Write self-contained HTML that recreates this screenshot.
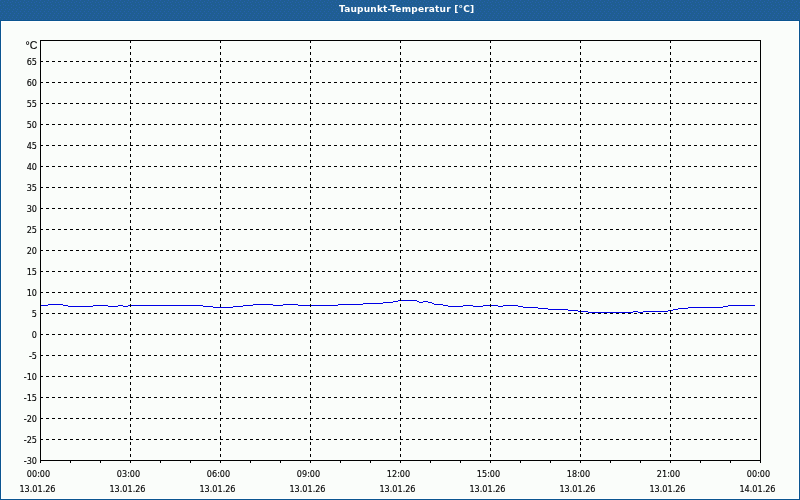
<!DOCTYPE html>
<html><head><meta charset="utf-8"><title>Taupunkt-Temperatur</title>
<style>
html,body{margin:0;padding:0;}
body{width:800px;height:500px;overflow:hidden;position:relative;background:#1f5e92;font-family:"Liberation Sans",Arial,sans-serif;}
#title{position:absolute;left:0;top:0;width:800px;height:20px;background:#1f5e92;}
#title span{position:absolute;left:339px;top:3px;font:bold 9px "DejaVu Sans",sans-serif;letter-spacing:0.2px;color:#fff;white-space:nowrap;line-height:13px;}
#frame{position:absolute;left:0;top:20px;width:798px;height:478px;border:1px solid #0b5590;border-width:1px;background:#fff;}
#inner{position:absolute;left:1px;top:1px;width:796px;height:476px;background:#fafdfa;}
svg{position:absolute;left:0;top:0;}
.yl{position:absolute;left:0;width:37px;text-align:right;font:9px "DejaVu Sans Condensed","DejaVu Sans",sans-serif;line-height:14px;color:#000;-webkit-text-stroke:0.12px #000;}
.xl{position:absolute;width:100px;text-align:center;font:9px "DejaVu Sans Condensed","DejaVu Sans",sans-serif;line-height:14px;color:#000;-webkit-text-stroke:0.12px #000;}
#unit{position:absolute;left:25.5px;top:37.5px;font:10.6px "Liberation Sans",Arial,sans-serif;line-height:14px;color:#000;-webkit-text-stroke:0.12px #000;}
</style></head><body>
<div id="title"><svg id="tsvg" width="800" height="20" viewBox="0 0 800 20" shape-rendering="crispEdges" style="position:absolute;left:0;top:0"><defs><pattern id="dith" x="0" y="0" width="8" height="20" patternUnits="userSpaceOnUse"><g fill="#2660ae"><rect x="0" y="0" width="1" height="1"/><rect x="4" y="1" width="1" height="1"/><rect x="2" y="2" width="1" height="1"/><rect x="7" y="2" width="1" height="1"/><rect x="3" y="4" width="1" height="1"/><rect x="0" y="5" width="1" height="1"/><rect x="5" y="5" width="1" height="1"/><rect x="3" y="7" width="1" height="1"/><rect x="7" y="8" width="1" height="1"/><rect x="1" y="9" width="1" height="1"/><rect x="5" y="9" width="1" height="1"/><rect x="0" y="11" width="1" height="1"/><rect x="4" y="11" width="1" height="1"/><rect x="2" y="13" width="1" height="1"/><rect x="6" y="13" width="1" height="1"/><rect x="1" y="15" width="1" height="1"/><rect x="5" y="15" width="1" height="1"/><rect x="0" y="17" width="1" height="1"/><rect x="4" y="17" width="1" height="1"/><rect x="2" y="19" width="1" height="1"/><rect x="6" y="19" width="1" height="1"/></g></pattern></defs><rect x="0" y="0" width="800" height="20" fill="url(#dith)"/></svg><span>Taupunkt-Temperatur [°C]</span></div>
<div id="frame"><div id="inner"></div></div>
<svg width="800" height="500" viewBox="0 0 800 500" shape-rendering="crispEdges">
<g fill="#0000e6">
<rect x="41" y="305" width="7" height="1"/>
<rect x="48" y="304" width="15" height="1"/>
<rect x="63" y="305" width="5" height="1"/>
<rect x="68" y="306" width="25" height="1"/>
<rect x="93" y="305" width="15" height="1"/>
<rect x="108" y="306" width="10" height="1"/>
<rect x="118" y="305" width="5" height="1"/>
<rect x="123" y="306" width="5" height="1"/>
<rect x="128" y="305" width="75" height="1"/>
<rect x="203" y="306" width="10" height="1"/>
<rect x="213" y="307" width="20" height="1"/>
<rect x="233" y="306" width="10" height="1"/>
<rect x="243" y="305" width="10" height="1"/>
<rect x="253" y="304" width="20" height="1"/>
<rect x="273" y="305" width="10" height="1"/>
<rect x="283" y="304" width="15" height="1"/>
<rect x="298" y="305" width="40" height="1"/>
<rect x="338" y="304" width="25" height="1"/>
<rect x="363" y="303" width="20" height="1"/>
<rect x="383" y="302" width="10" height="1"/>
<rect x="393" y="301" width="5" height="1"/>
<rect x="398" y="300" width="19" height="1"/>
<rect x="417" y="301" width="2" height="1"/>
<rect x="419" y="302" width="4" height="1"/>
<rect x="423" y="301" width="5" height="1"/>
<rect x="428" y="302" width="4" height="1"/>
<rect x="432" y="303" width="2" height="1"/>
<rect x="434" y="304" width="9" height="1"/>
<rect x="443" y="305" width="5" height="1"/>
<rect x="448" y="306" width="15" height="1"/>
<rect x="463" y="305" width="10" height="1"/>
<rect x="473" y="306" width="10" height="1"/>
<rect x="483" y="305" width="15" height="1"/>
<rect x="498" y="306" width="5" height="1"/>
<rect x="503" y="305" width="15" height="1"/>
<rect x="518" y="306" width="5" height="1"/>
<rect x="523" y="307" width="15" height="1"/>
<rect x="538" y="308" width="10" height="1"/>
<rect x="548" y="309" width="20" height="1"/>
<rect x="568" y="310" width="10" height="1"/>
<rect x="578" y="311" width="10" height="1"/>
<rect x="588" y="312" width="45" height="1"/>
<rect x="633" y="311" width="5" height="1"/>
<rect x="638" y="312" width="5" height="1"/>
<rect x="643" y="311" width="25" height="1"/>
<rect x="668" y="310" width="5" height="1"/>
<rect x="673" y="309" width="5" height="1"/>
<rect x="678" y="308" width="10" height="1"/>
<rect x="688" y="307" width="35" height="1"/>
<rect x="723" y="306" width="5" height="1"/>
<rect x="728" y="305" width="27" height="1"/>
</g>
<g stroke="#000" stroke-width="1" stroke-dasharray="3 3" fill="none">
<line x1="40" y1="61.5" x2="760" y2="61.5"/>
<line x1="40" y1="82.5" x2="760" y2="82.5"/>
<line x1="40" y1="103.5" x2="760" y2="103.5"/>
<line x1="40" y1="124.5" x2="760" y2="124.5"/>
<line x1="40" y1="145.5" x2="760" y2="145.5"/>
<line x1="40" y1="166.5" x2="760" y2="166.5"/>
<line x1="40" y1="187.5" x2="760" y2="187.5"/>
<line x1="40" y1="208.5" x2="760" y2="208.5"/>
<line x1="40" y1="229.5" x2="760" y2="229.5"/>
<line x1="40" y1="250.5" x2="760" y2="250.5"/>
<line x1="40" y1="271.5" x2="760" y2="271.5"/>
<line x1="40" y1="292.5" x2="760" y2="292.5"/>
<line x1="40" y1="313.5" x2="760" y2="313.5"/>
<line x1="40" y1="334.5" x2="760" y2="334.5"/>
<line x1="40" y1="355.5" x2="760" y2="355.5"/>
<line x1="40" y1="376.5" x2="760" y2="376.5"/>
<line x1="40" y1="397.5" x2="760" y2="397.5"/>
<line x1="40" y1="418.5" x2="760" y2="418.5"/>
<line x1="40" y1="439.5" x2="760" y2="439.5"/>
<line x1="130.5" y1="40" x2="130.5" y2="460"/>
<line x1="220.5" y1="40" x2="220.5" y2="460"/>
<line x1="310.5" y1="40" x2="310.5" y2="460"/>
<line x1="400.5" y1="40" x2="400.5" y2="460"/>
<line x1="490.5" y1="40" x2="490.5" y2="460"/>
<line x1="580.5" y1="40" x2="580.5" y2="460"/>
<line x1="670.5" y1="40" x2="670.5" y2="460"/>
</g>
<g fill="#000">
<rect x="40" y="40" width="721" height="1"/>
<rect x="40" y="460" width="721" height="1"/>
<rect x="40" y="40" width="1" height="423"/>
<rect x="760" y="40" width="1" height="423"/>
<rect x="70" y="461" width="1" height="2"/>
<rect x="100" y="461" width="1" height="2"/>
<rect x="130" y="461" width="1" height="2"/>
<rect x="160" y="461" width="1" height="2"/>
<rect x="190" y="461" width="1" height="2"/>
<rect x="220" y="461" width="1" height="2"/>
<rect x="250" y="461" width="1" height="2"/>
<rect x="280" y="461" width="1" height="2"/>
<rect x="310" y="461" width="1" height="2"/>
<rect x="340" y="461" width="1" height="2"/>
<rect x="370" y="461" width="1" height="2"/>
<rect x="400" y="461" width="1" height="2"/>
<rect x="430" y="461" width="1" height="2"/>
<rect x="460" y="461" width="1" height="2"/>
<rect x="490" y="461" width="1" height="2"/>
<rect x="520" y="461" width="1" height="2"/>
<rect x="550" y="461" width="1" height="2"/>
<rect x="580" y="461" width="1" height="2"/>
<rect x="610" y="461" width="1" height="2"/>
<rect x="640" y="461" width="1" height="2"/>
<rect x="670" y="461" width="1" height="2"/>
<rect x="700" y="461" width="1" height="2"/>
<rect x="730" y="461" width="1" height="2"/>
</g>
</svg>
<div id="unit">°C</div>
<div class="yl" style="top:55px">65</div>
<div class="yl" style="top:76px">60</div>
<div class="yl" style="top:97px">55</div>
<div class="yl" style="top:118px">50</div>
<div class="yl" style="top:139px">45</div>
<div class="yl" style="top:160px">40</div>
<div class="yl" style="top:181px">35</div>
<div class="yl" style="top:202px">30</div>
<div class="yl" style="top:223px">25</div>
<div class="yl" style="top:244px">20</div>
<div class="yl" style="top:265px">15</div>
<div class="yl" style="top:286px">10</div>
<div class="yl" style="top:307px">5</div>
<div class="yl" style="top:328px">0</div>
<div class="yl" style="top:349px">-5</div>
<div class="yl" style="top:370px">-10</div>
<div class="yl" style="top:391px">-15</div>
<div class="yl" style="top:412px">-20</div>
<div class="yl" style="top:433px">-25</div>
<div class="yl" style="top:454px">-30</div>
<div class="xl" style="left:-11.5px;top:467px">00:00</div>
<div class="xl" style="left:-12.5px;top:482px">13.01.26</div>
<div class="xl" style="left:78.5px;top:467px">03:00</div>
<div class="xl" style="left:77.5px;top:482px">13.01.26</div>
<div class="xl" style="left:168.5px;top:467px">06:00</div>
<div class="xl" style="left:167.5px;top:482px">13.01.26</div>
<div class="xl" style="left:258.5px;top:467px">09:00</div>
<div class="xl" style="left:257.5px;top:482px">13.01.26</div>
<div class="xl" style="left:348.5px;top:467px">12:00</div>
<div class="xl" style="left:347.5px;top:482px">13.01.26</div>
<div class="xl" style="left:438.5px;top:467px">15:00</div>
<div class="xl" style="left:437.5px;top:482px">13.01.26</div>
<div class="xl" style="left:528.5px;top:467px">18:00</div>
<div class="xl" style="left:527.5px;top:482px">13.01.26</div>
<div class="xl" style="left:618.5px;top:467px">21:00</div>
<div class="xl" style="left:617.5px;top:482px">13.01.26</div>
<div class="xl" style="left:708.5px;top:467px">00:00</div>
<div class="xl" style="left:707.5px;top:482px">14.01.26</div>
</body></html>
